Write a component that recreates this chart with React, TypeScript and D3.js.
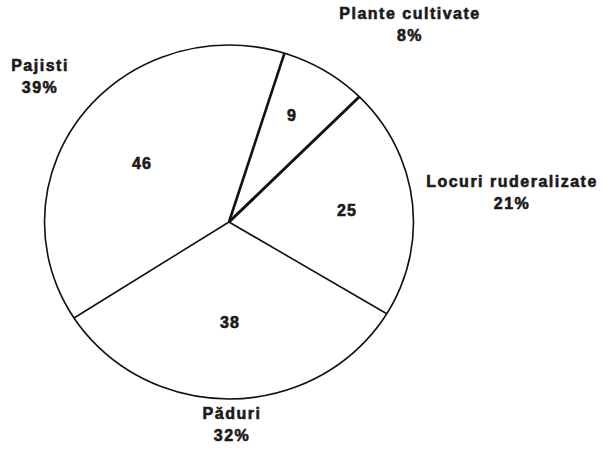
import React, { useEffect, useRef } from 'react';
import * as d3 from 'd3';

// Data
const categories = ['Plante cultivate', 'Locuri ruderalizate', 'Păduri', 'Pajisti'];
const counts = [9, 25, 38, 46];
const percentLabels = ['8%', '21%', '32%', '39%'];

// Label anchors (relative to pie centre), outer name + percent, inner count
const outerLabelPos = [
    { x: 181, y: -203 },
    { x: 283, y: -35 },
    { x: 3, y: 197 },
    { x: -189, y: -151 }
];
const innerLabelPos = [
    { x: 63, y: -107 },
    { x: 118, y: -12 },
    { x: 1, y: 100 },
    { x: -87, y: -59 }
];
// radial edge widths: start edge of each slice
const edgeWidths = [2.6, 3, 1.6, 1.6];

const App: React.FC = () => {
    const ref = useRef<SVGSVGElement>(null);

    useEffect(() => {
        if (!ref.current) return;
        const svg = d3.select(ref.current);
        svg.selectAll('*').remove();

        const width = 607;
        const height = 455;
        const cx = 229;
        const cy = 222;
        const rx = 184.5;
        const ry = 177;

        svg.attr('width', width).attr('height', height);
        svg.append('rect').attr('width', width).attr('height', height).attr('fill', '#fff');

        const data = categories.map((c, i) => ({ category: c, value: counts[i], pct: percentLabels[i] }));

        const start = (17.5 * Math.PI) / 180;
        const pie = d3.pie<{ category: string; value: number; pct: string }>()
            .sort(null)
            .value(d => d.value)
            .startAngle(start)
            .endAngle(start + 2 * Math.PI);
        const arcs = pie(data);

        const arc = d3.arc<d3.PieArcDatum<any>>().innerRadius(0).outerRadius(rx);

        const g = svg.append('g').attr('transform', `translate(${cx},${cy})`);
        const pieG = g.append('g').attr('transform', `scale(1, ${ry / rx})`);

        pieG.selectAll('path.slice')
            .data(arcs)
            .enter()
            .append('path')
            .attr('class', 'slice')
            .attr('d', arc as any)
            .attr('fill', '#fff')
            .attr('stroke', 'none');

        // outline
        pieG.append('circle')
            .attr('r', rx)
            .attr('fill', 'none')
            .attr('stroke', '#111')
            .attr('stroke-width', 1.6)
            .attr('vector-effect', 'non-scaling-stroke');

        // radial edges
        pieG.selectAll('line.edge')
            .data(arcs)
            .enter()
            .append('line')
            .attr('class', 'edge')
            .attr('x1', 0)
            .attr('y1', 0)
            .attr('x2', d => rx * Math.sin(d.startAngle))
            .attr('y2', d => -rx * Math.cos(d.startAngle))
            .attr('stroke', '#111')
            .attr('stroke-width', (d, i) => edgeWidths[i])
            .attr('vector-effect', 'non-scaling-stroke');

        const font = '"Liberation Sans", Arial, sans-serif';

        // inner counts
        g.selectAll('text.count')
            .data(arcs)
            .enter()
            .append('text')
            .attr('class', 'count')
            .attr('x', (d, i) => innerLabelPos[i].x)
            .attr('y', (d, i) => innerLabelPos[i].y)
            .attr('dy', '0.35em')
            .attr('text-anchor', 'middle')
            .attr('font-family', font)
            .attr('font-size', '16px')
            .attr('font-weight', 'bold')
            .attr('fill', '#1a1a1a')
            .attr('stroke', '#1a1a1a')
            .attr('stroke-width', 0.6)
            .attr('letter-spacing', 1)
            .text(d => d.data.value);

        // outer labels
        const outer = g.selectAll('g.outer')
            .data(arcs)
            .enter()
            .append('g')
            .attr('class', 'outer')
            .attr('transform', (d, i) => `translate(${outerLabelPos[i].x},${outerLabelPos[i].y})`);

        outer.append('text')
            .attr('text-anchor', 'middle')
            .attr('font-family', font)
            .attr('font-size', '16px')
            .attr('font-weight', 'bold')
            .attr('fill', '#1a1a1a')
            .attr('stroke', '#1a1a1a')
            .attr('stroke-width', 0.6)
            .attr('letter-spacing', 1.5)
            .text(d => d.data.category);

        outer.append('text')
            .attr('y', 22)
            .attr('text-anchor', 'middle')
            .attr('font-family', font)
            .attr('font-size', '16px')
            .attr('font-weight', 'bold')
            .attr('fill', '#1a1a1a')
            .attr('stroke', '#1a1a1a')
            .attr('stroke-width', 0.6)
            .attr('letter-spacing', 1.5)
            .text(d => d.data.pct);
    }, []);

    return (
        <div style={{ position: 'absolute', left: 0, top: 0 }}>
            <svg ref={ref} style={{ display: 'block' }}></svg>
        </div>
    );
};

export default App;
